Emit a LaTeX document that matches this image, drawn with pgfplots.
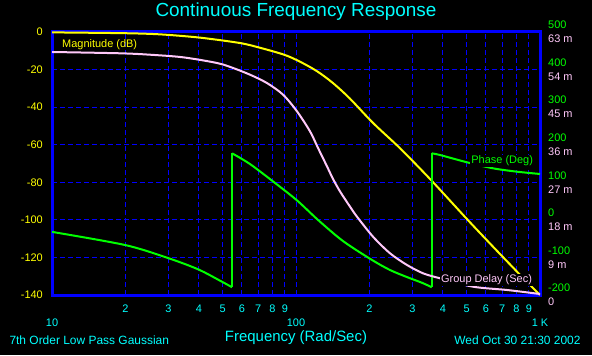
\documentclass[border=0pt]{standalone}
\usepackage{pgfplots}
\pgfplotsset{compat=1.18}
\usepackage{fontspec}
\setmainfont{Liberation Sans}
\definecolor{gridblue}{RGB}{0,0,255}
\definecolor{cyantxt}{RGB}{0,255,255}
\definecolor{magyellow}{RGB}{255,255,0}
\definecolor{phgreen}{RGB}{0,255,0}
\definecolor{gdpink}{RGB}{255,200,250}
\begin{document}
\begin{tikzpicture}[x=1bp,y=1bp]
\fill[black] (0,0) rectangle (592,355);
\useasboundingbox (0,0) rectangle (592,355);
\begin{axis}[
  at={(52bp,60bp)}, anchor=south west, scale only axis, width=488bp, height=263bp,
  xmode=log, xmin=10, xmax=1000, major tick length=0pt, minor tick length=0pt,
  ticklabel style={font=\fontsize{11}{13}\selectfont},
  ymin=-140, ymax=0,
  axis line style={gridblue, line width=3bp},
  xtick={20,30,40,50,60,70,80,90,200,300,400,500,600,700,800,900},
  xticklabels={2,3,4,5,6,7,8,9,2,3,4,5,6,7,8,9},
  minor xtick={},
  extra x ticks={10,100,1000},
  extra x tick labels={10,100,1 K},
  extra x tick style={xticklabel style={yshift=-14bp}},
  xticklabel style={text=cyantxt, anchor=center, inner sep=0pt, yshift=-14bp},
  ytick={-140,-120,-100,-80,-60,-40,-20,0},
  yticklabels={-140,-120,-100,-80,-60,-40,-20,0},
  yticklabel style={text=magyellow, anchor=east, inner sep=0pt, xshift=-9bp},
  xmajorgrids, ymajorgrids,
  grid style={gridblue, dash pattern=on 5bp off 3bp, line width=1bp},
]
\addplot[magyellow, line width=2bp, smooth, tension=0.5] coordinates {
(10,-0.2) (19,-0.6) (25.2,-1.0) (30.4,-1.6) (40.4,-3.0) (55.2,-5.3) (64.8,-7.0)
(88.5,-11.9) (103.8,-15.8) (122,-20.9) (141.8,-27.2) (166.5,-35.5) (206.8,-48.4)
(266.9,-61.9) (357.5,-78.8) (502,-99.6) (642,-114.3) (805,-127.6) (910,-134.7) (1000,-140)
};
\end{axis}
\begin{axis}[
  at={(52bp,60bp)}, anchor=south west, scale only axis, width=488bp, height=263bp,
  xmode=log, xmin=10, xmax=1000, major tick length=0pt, minor tick length=0pt,
  ticklabel style={font=\fontsize{11}{13}\selectfont},
  ymin=-200, ymax=500,
  hide x axis, axis y line*=right, axis line style={draw=none},
  ytick={-200,-100,0,100,200,300,400,500},
  yticklabels={-200,-100,0,100,200,300,400,500},
  yticklabel style={text=phgreen, anchor=west, inner sep=0pt, xshift=8bp, yshift=7bp},
]
\addplot[phgreen, line width=2bp, smooth, tension=0.5] coordinates {
(10,-32) (19.9,-66.9) (29.6,-100.7) (39.7,-131.6) (49.7,-164.6) (54.7,-179.5)
};
\addplot[phgreen, line width=2bp] coordinates {(54.7,-179.5) (54.7,177.1)};
\addplot[phgreen, line width=2bp, smooth, tension=0.5] coordinates {
(54.7,177.1) (64.8,148.5) (82.0,98.3) (100.9,51.9) (122,2.0) (147.2,-43.8)
(166.5,-69.5) (206.8,-108.4) (242.8,-133.5) (285,-152.3) (330,-168) (360,-179.5)
};
\addplot[phgreen, line width=2bp] coordinates {(360,-179.5) (360,177.1)};
\addplot[phgreen, line width=2bp, smooth, tension=0.5] coordinates {
(360,177.1) (389.3,172.6) (502,153.2) (642,137.2) (805,128.2) (1000,122.1)
};
\end{axis}
\begin{axis}[
  at={(52bp,60bp)}, anchor=south west, scale only axis, width=488bp, height=263bp,
  xmode=log, xmin=10, xmax=1000, major tick length=0pt, minor tick length=0pt,
  ticklabel style={font=\fontsize{11}{13}\selectfont},
  scaled y ticks=false,
  ymin=0, ymax=0.063,
  hide x axis, axis y line*=right, axis line style={draw=none},
  ytick={0,0.009,0.018,0.027,0.036,0.045,0.054,0.063},
  yticklabels={0,9 m,18 m,27 m,36 m,45 m,54 m,63 m},
  yticklabel style={text=gdpink, anchor=west, inner sep=0pt, xshift=8bp, yshift=-7bp},
]
\addplot[gdpink, line width=2bp, smooth, tension=0.5] coordinates {
(10,0.05821) (19.0,0.05790) (25.2,0.05756) (34.4,0.05694) (47.5,0.05557) (55.2,0.05438)
(64.8,0.05277) (76.0,0.05078) (88.5,0.04798) (100.9,0.04400) (114.1,0.03921)
(123.1,0.03521) (134.0,0.03080) (141.8,0.02780) (151.5,0.02480) (166.5,0.02115)
(177.8,0.01876) (206.8,0.01397) (242.8,0.00999) (285.0,0.00719) (331.6,0.00520)
(389.3,0.00400) (531.4,0.00199) (732.3,0.00120) (1000,0.00024)
};
\node[anchor=west, text=magyellow, inner sep=0pt, font=\fontsize{11}{13}\selectfont]
  at (rel axis cs:0.0205,0.951) {Magnitude (dB)};
\node[anchor=west, text=phgreen, fill=black, inner sep=1bp, font=\fontsize{11}{13}\selectfont]
  at (rel axis cs:0.857,0.5095) {Phase (Deg)};
\node[anchor=west, text=gdpink, fill=black, inner sep=1bp, font=\fontsize{11}{13}\selectfont]
  at (rel axis cs:0.795,0.057) {Group Delay (Sec)};
\end{axis}
\node[text=cyantxt, font=\fontsize{19}{22}\selectfont] at (296,343) {Continuous Frequency Response};
\node[anchor=west, text=cyantxt, font=\fontsize{12}{14}\selectfont] at (6,15) {7th Order Low Pass Gaussian};
\node[text=cyantxt, font=\fontsize{15}{18}\selectfont] at (296,17) {Frequency (Rad/Sec)};
\node[anchor=east, text=cyantxt, font=\fontsize{12}{14}\selectfont] at (584,15) {Wed Oct 30 21:30 2002};
\end{tikzpicture}
\end{document}
